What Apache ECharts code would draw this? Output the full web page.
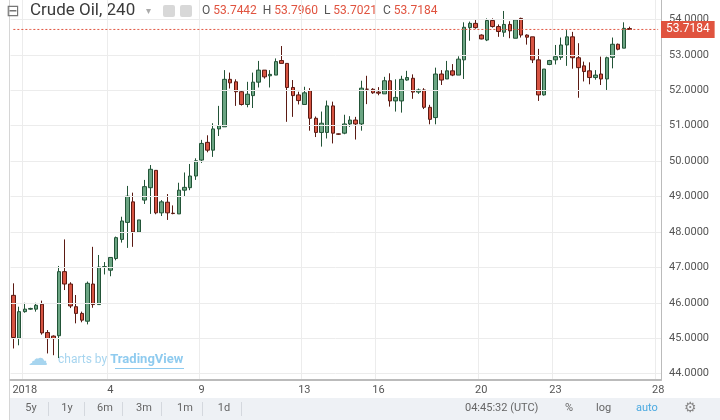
<!DOCTYPE html>
<html>
<head>
<meta charset="utf-8">
<script src="https://cdn.jsdelivr.net/npm/echarts@6/dist/echarts.min.js"></script>
<style>
  html, body { margin: 0; padding: 0; background: #fff; }
  #chart { width: 720px; height: 420px; }
</style>
</head>
<body>
<div id="chart"></div>
<script>
// 4h candles
var opens  = [46.21,45.00,45.75,45.82,45.82,45.96,45.16,45.06,45.07,46.88,46.53,45.89,45.70,45.48,46.53,45.95,47.01,46.92,47.25,47.79,
              48.27,48.85,48.00,48.90,49.25,49.74,48.54,48.84,48.53,48.51,49.18,49.25,49.58,50.03,50.53,50.31,50.91,50.97,52.31,52.24,
              51.96,51.60,51.85,52.23,52.57,52.41,52.43,52.84,52.76,52.08,51.87,51.60,51.99,51.21,50.81,50.81,51.56,50.77,50.79,51.05,
              51.16,51.05,52.03,52.03,51.95,51.90,52.27,51.70,51.70,52.29,52.34,51.95,52.01,51.52,51.23,52.46,52.32,52.55,52.43,52.86,
              53.77,53.89,53.56,53.42,53.97,53.80,53.64,53.86,53.47,54.03,53.56,53.51,52.86,51.87,52.73,52.86,52.93,53.28,53.51,52.92,
              52.69,52.55,52.36,52.46,52.32,52.93,53.30,53.19,53.7442];
var closes = [45.02,45.75,45.82,45.84,45.93,45.15,44.99,44.99,46.88,46.53,45.91,45.70,45.51,46.55,45.95,47.01,47.02,47.28,47.84,48.31,
              49.01,48.00,48.34,49.28,49.77,48.54,48.85,48.54,48.52,49.18,49.26,49.58,50.01,50.50,50.31,50.91,51.00,52.31,52.21,51.96,
              51.60,51.89,52.23,52.57,52.38,52.45,52.81,52.76,52.08,51.85,51.71,51.93,51.21,50.81,51.07,51.56,50.79,50.76,51.05,51.16,
              51.05,52.06,52.03,51.93,51.92,52.27,51.70,51.80,52.31,52.36,51.95,52.01,51.52,51.18,52.46,52.29,52.55,52.43,52.88,53.78,
              53.89,53.77,53.45,53.97,53.80,53.66,53.86,53.68,53.99,53.56,53.50,52.86,51.87,52.60,52.84,52.95,53.28,53.51,52.92,52.64,
              52.53,52.36,52.43,52.32,52.92,53.30,53.16,53.75,53.7184];
var lows   = [44.71,44.80,45.72,45.80,45.75,45.10,44.57,44.52,44.44,46.36,45.85,45.42,45.45,45.39,45.86,45.95,46.80,46.75,47.20,47.70,
              47.55,47.58,48.00,48.79,48.51,48.50,48.45,48.34,48.50,48.51,49.00,49.18,49.47,49.95,50.25,50.12,50.71,50.97,52.05,51.56,
              51.57,51.52,51.50,52.08,52.33,52.08,52.43,52.76,51.11,51.25,51.60,51.60,50.86,50.68,50.41,50.64,50.50,50.74,50.76,50.97,
              50.61,50.86,51.61,51.90,51.86,51.90,51.54,51.40,51.37,52.27,51.76,51.90,51.47,51.04,51.04,52.15,52.32,52.40,52.43,52.32,
              53.40,53.74,53.44,53.39,53.77,53.51,53.51,53.47,53.47,53.49,53.29,52.77,51.70,51.85,52.71,52.73,52.86,52.69,52.61,51.79,
              52.25,52.17,52.30,52.15,52.01,52.62,53.13,53.19,53.7021];
var highs  = [46.55,45.89,46.00,45.86,46.00,46.06,45.23,45.08,47.04,47.79,46.58,46.22,45.75,46.60,47.58,47.35,47.15,47.28,47.87,48.43,
              49.30,49.11,48.34,49.47,49.89,49.74,48.90,49.07,48.75,49.39,49.68,49.92,50.08,50.60,50.73,51.07,51.56,52.57,52.50,52.31,
              51.99,52.24,52.50,52.83,52.57,52.57,52.90,53.25,52.76,52.29,51.96,52.10,52.06,51.26,51.40,51.71,51.68,50.78,51.31,51.27,
              51.25,52.27,52.41,52.06,52.09,52.38,52.48,52.31,52.41,52.55,52.45,52.05,52.06,51.59,52.64,52.57,52.83,52.74,52.96,53.92,
              53.94,53.99,53.58,54.03,54.03,53.86,54.24,53.95,53.99,54.05,53.58,53.51,53.17,52.60,52.86,53.28,53.49,53.70,53.65,53.33,
              52.81,52.79,52.57,52.95,52.95,53.49,53.32,53.92,53.796];
var emptySlots = 5;                       // blank space right of the last candle
var dateLabels = {2: '2018', 17: '4', 33: '9', 51: '13', 64: '16', 82: '20', 95: '23', 113: '28'};
var priceTicks = [44, 45, 46, 47, 48, 49, 50, 51, 52, 53, 54];
var lastPrice = 53.7184;
var rangeButtons = [['5y', 31], ['1y', 67], ['6m', 105], ['3m', 144], ['1m', 185], ['1d', 224]];

var cats = [], ohlc = [], lastLine = [];
for (var i = 0; i < opens.length + emptySlots; i++) {
  cats.push(String(i));
  ohlc.push(i < opens.length ? [opens[i], closes[i], lows[i], highs[i]] : '-');
  lastLine.push(lastPrice);
}

var chart = echarts.init(document.getElementById('chart'));
var showLabel = function (idx) { return dateLabels[idx] !== undefined; };

var graphics = [
  { type: 'rect', shape: { x: 10, y: 398, width: 710, height: 22 }, style: { fill: '#eef1f5' } },
  { type: 'rect', shape: { x: 9, y: 0, width: 1, height: 420 }, style: { fill: '#d6d6d6' } },
  { type: 'text', x: 6, y: 4, style: { text: '⊟', fill: '#777', font: '16px DejaVu Sans' } },
  { type: 'text', x: 30, y: 2, style: { text: 'Crude Oil, 240', fill: '#3a3a3a', font: '17px Roboto' } },
  { type: 'text', x: 146, y: 6, style: { text: '▾', fill: '#aaa', font: '10px DejaVu Sans' } },
  { type: 'rect', shape: { x: 163, y: 5, width: 12, height: 12, r: 2 }, style: { fill: '#d8d8d8' } },
  { type: 'rect', shape: { x: 180, y: 5, width: 12, height: 12, r: 2 }, style: { fill: '#d8d8d8' } },
  { type: 'text', x: 202, y: 5, style: { rich: {
      k: { fill: '#555', font: '12px Roboto' }, v: { fill: '#e0533f', font: '12px Roboto' } },
      text: '{k|O }{v|53.7442}{k|  H }{v|53.7960}{k|  L }{v|53.7021}{k|  C }{v|53.7184}' } },
  { type: 'text', x: 28, y: 350, style: { text: '☁', fill: '#a7d5ef', font: '20px DejaVu Sans' } },
  { type: 'text', x: 58, y: 353, style: { rich: {
      a: { fill: '#a7d5ef', font: '12px Roboto' },
      b: { fill: '#8fcbef', font: 'bold 13px Roboto' } },
      text: '{a|charts by }{b|TradingView}' } },
  { type: 'rect', shape: { x: 115, y: 368, width: 69, height: 1 }, style: { fill: '#8fcbef' } },
  { type: 'text', x: 465, y: 403, style: { text: '04:45:32 (UTC)', fill: '#666', font: '11px Roboto' } },
  { type: 'text', x: 565, y: 403, style: { text: '%', fill: '#666', font: '11px Roboto' } },
  { type: 'text', x: 596, y: 403, style: { text: 'log', fill: '#666', font: '11px Roboto' } },
  { type: 'text', x: 636, y: 403, style: { text: 'auto', fill: '#4aa9e0', font: '11px Roboto' } },
  { type: 'text', x: 684, y: 401, style: { text: '⚙', fill: '#888', font: '14px DejaVu Sans' } }
];
rangeButtons.forEach(function (b) {
  graphics.push({ type: 'text', x: b[1], y: 403, style: { text: b[0], fill: '#666', font: '11px Roboto', textAlign: 'center' } });
  graphics.push({ type: 'rect', shape: { x: b[1] + 17, y: 402, width: 1, height: 14 }, style: { fill: '#d4d8de' } });
});

chart.setOption({
  animation: false,
  grid: { left: 10.5, right: 59, top: 0, bottom: 40 },
  xAxis: {
    type: 'category', data: cats, boundaryGap: true,
    axisLine: { lineStyle: { color: '#bbb', width: 2 } },
    axisTick: { show: false },
    axisLabel: {
      interval: showLabel, formatter: function (v, idx) { return dateLabels[idx] || ''; },
      color: '#555', fontSize: 11, fontFamily: 'Roboto', margin: 5
    },
    splitLine: { show: true, interval: showLabel, lineStyle: { color: '#ececec' } }
  },
  yAxis: [{
    type: 'value', position: 'right', min: 43.82, max: 54.55,
    axisLine: { show: true, lineStyle: { color: '#bbb', width: 1 } },
    axisTick: { show: false }, splitLine: { show: false },
    axisLabel: {
      customValues: priceTicks, formatter: function (v) { return v.toFixed(4); },
      color: '#555', fontSize: 11, fontFamily: 'Roboto', margin: 8
    }
  }, {
    // carries only the last-price tag
    type: 'value', position: 'right', min: 43.82, max: 54.55,
    axisLine: { show: false }, axisTick: { show: false }, splitLine: { show: false },
    axisLabel: {
      customValues: [lastPrice], formatter: function (v) { return v.toFixed(4); },
      color: '#ffffff', backgroundColor: '#e0533f', padding: [3, 5, 2, 5],
      fontSize: 12, fontFamily: 'Roboto', margin: 0
    }
  }],
  series: [{
    type: 'candlestick', data: ohlc, barWidth: 4,
    itemStyle: {
      color: '#6ba583', color0: '#d75442',
      borderColor: '#225437', borderColor0: '#5b1a13', borderWidth: 1
    },
    markLine: {
      silent: true, symbol: 'none', animation: false,
      lineStyle: { color: '#ececec', type: 'solid', width: 1 },
      label: { show: false },
      data: priceTicks.map(function (v) { return { yAxis: v }; })
    }
  }, {
    type: 'line', data: lastLine, yAxisIndex: 0, symbol: 'none', silent: true, z: 5,
    lineStyle: { color: '#e0533f', width: 1, type: [2, 2] }
  }],
  graphic: graphics
});
</script>
</body>
</html>
